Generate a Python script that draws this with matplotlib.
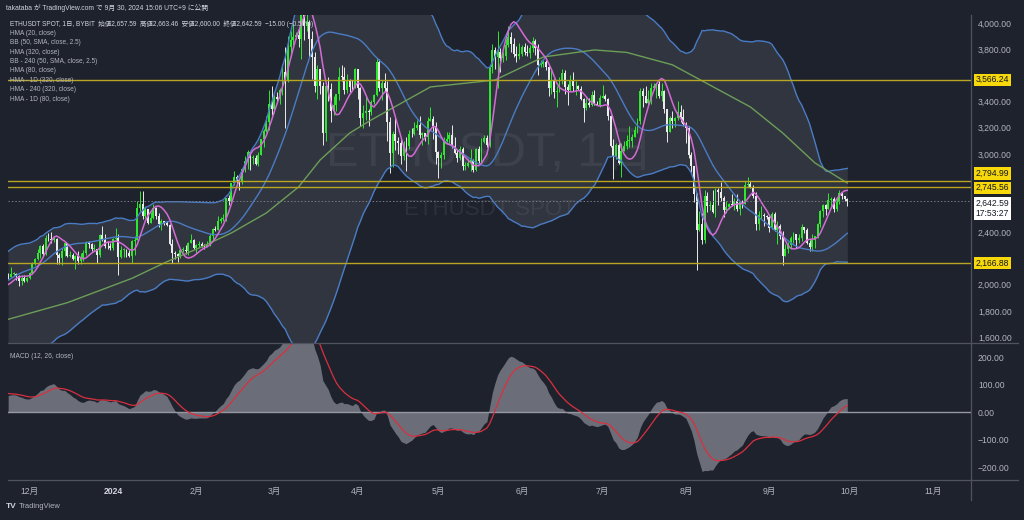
import numpy as np
import pandas as pd
import matplotlib
matplotlib.use("Agg")
import matplotlib.pyplot as plt
import matplotlib.dates as mdates

plt.rcParams.update({
    "font.family": ["Liberation Sans", "Noto Sans CJK JP"],
    "axes.unicode_minus": True,
})

# ETHUSDT daily closes before the visible window (2023-08-01 .. 2023-11-22), used to warm up the indicators
warmup_close = [
    1870, 1838, 1835, 1827, 1836, 1826, 1827, 1856, 1855, 1850, 1849, 1849, 1843, 1843, 1827, 1806,
    1684, 1668, 1682, 1683, 1665, 1636, 1680, 1662, 1650, 1645, 1654, 1655, 1730, 1705, 1645,
    1628, 1635, 1638, 1630, 1632, 1633, 1646, 1636, 1634, 1616, 1553, 1593, 1607, 1627, 1641,
    1635, 1621, 1637, 1646, 1624, 1583, 1592, 1593, 1581, 1588, 1594, 1596, 1653, 1665, 1671,
    1733, 1663, 1656, 1647, 1611, 1645, 1633, 1633, 1580, 1566, 1565, 1540, 1552, 1555, 1558, 1601,
    1566, 1565, 1566, 1605, 1629, 1664, 1763, 1785, 1784, 1803, 1778, 1776, 1794, 1810, 1814,
    1846, 1798, 1832, 1858, 1893, 1900, 1885, 1888, 2120, 2078, 2052, 2045, 2055, 1980, 2060,
    1960, 1962, 1963, 2012, 2022, 1932, 2064,
]

# visible candles 2023-11-23 .. 2024-09-30
close = [
    2062, 2082, 2085, 2064, 2027, 2048, 2030, 2052,
    2088, 2165, 2193, 2243, 2293, 2233, 2357, 2345, 2340, 2352, 2225, 2201, 2260, 2315, 2220, 2229,
    2196, 2218, 2178, 2200, 2239, 2326, 2313, 2271, 2272, 2228, 2376, 2345, 2298, 2293, 2282,
    2352, 2356, 2210, 2268, 2268, 2240, 2222, 2330, 2344, 2583, 2617, 2525, 2575, 2472, 2512, 2587,
    2528, 2467, 2490, 2470, 2455, 2313, 2240, 2235, 2218, 2265, 2268, 2256, 2318, 2343, 2283,
    2304, 2307, 2297, 2290, 2300, 2375, 2426, 2421, 2487, 2500, 2506, 2660, 2641, 2776, 2822,
    2803, 2786, 2881, 2945, 3013, 2967, 2971, 2922, 2991, 3112, 3177, 3242, 3384, 3340,
    3433, 3420, 3488, 3628, 3555, 3818, 3868, 3890, 3910, 3880, 4065, 3980, 4005, 3880, 3740, 3520,
    3645, 3515, 3160, 3520, 3492, 3330, 3370, 3455, 3590, 3585, 3490, 3560, 3510, 3508, 3645,
    3505, 3277, 3310, 3330, 3320, 3398, 3452, 3700, 3503, 3545, 3505, 3240, 3010, 3155, 3100,
    3083, 2985, 3063, 3057, 3155, 3148, 3200, 3220, 3140, 3157, 3130, 3250, 3265, 3210, 3015,
    2970, 2990, 3100, 3115, 3140, 3060, 3010, 2970, 3040, 2910, 2910, 2930, 2950, 2880, 3040, 2945,
    3090, 3120, 3070, 3660, 3790, 3740, 3780, 3730, 3750, 3830, 3890, 3840, 3765, 3750, 3760,
    3815, 3780, 3767, 3810, 3865, 3810, 3680, 3683, 3705, 3665, 3500, 3560, 3470, 3480, 3567,
    3620, 3510, 3485, 3560, 3515, 3520, 3495, 3420, 3350, 3390, 3370, 3450, 3380, 3375, 3430,
    3440, 3420, 3290, 3060, 2980, 3070, 2930, 3020, 3060, 3100, 3100, 3130, 3180, 3250, 3480, 3440,
    3390, 3420, 3500, 3520, 3530, 3440, 3480, 3340, 3170, 3270, 3250, 3270, 3320, 3280, 3230,
    3200, 2990, 2905, 2690, 2420, 2460, 2340, 2680, 2600, 2610, 2555, 2725, 2705, 2660, 2570, 2590,
    2615, 2610, 2640, 2575, 2630, 2620, 2765, 2770, 2745, 2680, 2460, 2530, 2530, 2525, 2515,
    2430, 2540, 2420, 2450, 2370, 2220, 2270, 2300, 2360, 2390, 2340, 2360, 2440, 2420, 2320,
    2290, 2340, 2370, 2465, 2560, 2610, 2580, 2650, 2655, 2580, 2630, 2700, 2680, 2657.59, 2642.59,
]
high = [
    2090, 2133, 2097, 2091, 2074, 2074, 2072, 2056,
    2100, 2170, 2200, 2275, 2305, 2310, 2380, 2393, 2400, 2375, 2355, 2245, 2280, 2330, 2320, 2260,
    2240, 2225, 2255, 2245, 2265, 2335, 2330, 2320, 2310, 2275, 2390, 2445, 2390, 2330, 2320,
    2355, 2430, 2385, 2295, 2280, 2270, 2265, 2345, 2370, 2640, 2717, 2715, 2600, 2580, 2555, 2615,
    2590, 2545, 2500, 2480, 2485, 2465, 2350, 2260, 2245, 2275, 2285, 2300, 2325, 2390, 2350,
    2310, 2330, 2325, 2310, 2335, 2390, 2435, 2450, 2525, 2515, 2540, 2665, 2685, 2780, 2865,
    2835, 2810, 2890, 2985, 3030, 3010, 2990, 2990, 3015, 3115, 3190, 3290, 3490, 3520,
    3450, 3470, 3500, 3690, 3820, 3900, 3940, 3995, 3930, 3965, 4085, 4090, 4085, 4020, 3935, 3780,
    3680, 3645, 3550, 3535, 3590, 3545, 3440, 3460, 3660, 3680, 3660, 3610, 3575, 3565, 3655,
    3650, 3510, 3370, 3445, 3345, 3410, 3460, 3730, 3725, 3565, 3615, 3555, 3285, 3175, 3280,
    3125, 3120, 3095, 3125, 3180, 3200, 3240, 3260, 3290, 3170, 3160, 3280, 3355, 3290, 3240,
    3020, 3015, 3125, 3170, 3170, 3220, 3125, 3030, 3060, 3055, 2940, 2960, 3040, 2960, 3045, 3060,
    3120, 3145, 3140, 3680, 3840, 3815, 3940, 3810, 3780, 3880, 3975, 3930, 3885, 3825, 3850,
    3835, 3845, 3830, 3830, 3890, 3880, 3840, 3715, 3720, 3715, 3675, 3655, 3570, 3515, 3590,
    3650, 3640, 3530, 3600, 3625, 3560, 3525, 3515, 3430, 3425, 3430, 3480, 3490, 3400, 3450,
    3525, 3460, 3430, 3300, 3110, 3080, 3085, 3080, 3095, 3145, 3215, 3150, 3210, 3275, 3500, 3500,
    3515, 3490, 3540, 3540, 3545, 3560, 3545, 3490, 3345, 3290, 3330, 3285, 3400, 3370, 3345,
    3240, 3215, 3015, 2910, 2700, 2560, 2550, 2720, 2710, 2640, 2720, 2740, 2740, 2785, 2680, 2640,
    2625, 2690, 2665, 2695, 2640, 2645, 2795, 2820, 2795, 2765, 2705, 2560, 2600, 2545, 2535,
    2525, 2555, 2555, 2490, 2465, 2410, 2310, 2325, 2375, 2400, 2390, 2385, 2460, 2440, 2430,
    2340, 2390, 2375, 2475, 2570, 2620, 2615, 2700, 2670, 2670, 2670, 2725, 2700, 2680, 2663.46,
]
low = [
    2040, 2056, 2073, 2035, 1990, 2000, 2020, 2020,
    2040, 2085, 2150, 2185, 2200, 2220, 2225, 2330, 2320, 2325, 2160, 2160, 2150, 2220, 2210, 2210,
    2185, 2120, 2160, 2160, 2180, 2225, 2280, 2260, 2260, 2165, 2215, 2330, 2280, 2270, 2265,
    2265, 2340, 2070, 2205, 2210, 2210, 2210, 2165, 2230, 2340, 2560, 2500, 2510, 2465, 2470, 2500,
    2505, 2440, 2415, 2455, 2450, 2305, 2165, 2195, 2170, 2200, 2250, 2235, 2230, 2320, 2270,
    2240, 2285, 2290, 2270, 2285, 2295, 2350, 2410, 2415, 2470, 2490, 2490, 2605, 2630, 2760,
    2760, 2725, 2770, 2860, 2885, 2875, 2925, 2915, 2910, 2990, 3055, 3170, 3180, 3300,
    3310, 3400, 3380, 3450, 3200, 3550, 3770, 3830, 3880, 3815, 3725, 3870, 3935, 3740, 3570, 3470,
    3420, 3455, 3065, 3100, 3400, 3240, 3300, 3330, 3415, 3560, 3460, 3465, 3475, 3490, 3500,
    3420, 3210, 3200, 3260, 3210, 3300, 3380, 3440, 3480, 3410, 3480, 3100, 2850, 2900, 3030,
    3000, 2920, 2955, 2870, 3040, 3125, 3140, 3180, 3120, 3070, 3100, 3075, 3250, 3110, 2920,
    2815, 2890, 2960, 3090, 3080, 3045, 3000, 2940, 2950, 2880, 2880, 2900, 2870, 2860, 2870, 2930,
    2930, 3085, 3050, 3050, 3620, 3650, 3500, 3625, 3705, 3720, 3820, 3775, 3740, 3700, 3725,
    3750, 3755, 3750, 3730, 3780, 3755, 3600, 3665, 3660, 3640, 3440, 3460, 3430, 3360, 3470,
    3535, 3460, 3370, 3480, 3480, 3450, 3490, 3415, 3240, 3335, 3355, 3365, 3370, 3370, 3360,
    3425, 3400, 3260, 3050, 2810, 2960, 2920, 2825, 3020, 3040, 3055, 3050, 3125, 3160, 3225, 3360,
    3385, 3375, 3380, 3490, 3425, 3425, 3400, 3310, 3090, 3165, 3195, 3205, 3260, 3240, 3215,
    3080, 2970, 2860, 2635, 2110, 2410, 2310, 2320, 2555, 2570, 2550, 2520, 2610, 2640, 2520, 2550,
    2580, 2600, 2570, 2560, 2530, 2585, 2615, 2745, 2735, 2660, 2420, 2420, 2505, 2445, 2500,
    2400, 2425, 2410, 2310, 2350, 2150, 2225, 2240, 2270, 2320, 2280, 2320, 2330, 2395, 2310,
    2260, 2255, 2280, 2360, 2440, 2515, 2535, 2575, 2590, 2555, 2560, 2620, 2655, 2640, 2600,
]

# HMA (320)
hma320_dates = ["2023-11-23", "2023-12-15", "2024-01-08", "2024-01-21", "2024-02-02", "2024-02-14",
                "2024-02-27", "2024-03-10", "2024-03-18", "2024-03-29", "2024-04-06", "2024-04-28",
                "2024-05-22", "2024-06-09", "2024-06-28", "2024-07-10", "2024-07-27", "2024-08-25",
                "2024-09-06", "2024-09-18", "2024-09-30"]
hma320_vals = [1735, 1862, 2048, 2175, 2280, 2395, 2548, 2747, 2953, 3159, 3259, 3511,
               3564, 3740, 3794, 3775, 3680, 3358, 3159, 2930, 2777]

levels = [3566.24, 2794.99, 2745.56, 2166.88]
last_price = 2642.59

# price ticks; the ones hidden under the level boxes are left out
price_ticks = [1600, 1800, 2000, 2400, 3000, 3200, 3400, 3800, 4000]
macd_ticks = [-200, -100, 0, 100, 200]

month_starts = ["2023-12-01", "2024-01-01", "2024-02-01", "2024-03-01", "2024-04-01", "2024-05-01",
                "2024-06-01", "2024-07-01", "2024-08-01", "2024-09-01", "2024-10-01", "2024-11-01"]
month_labels = ["12月", "2024", "2月", "3月", "4月", "5月", "6月", "7月", "8月", "9月", "10月", "11月"]

legend_lines = [
    "ETHUSDT SPOT, 1日, BYBIT  始値2,657.59  高値2,663.46  安値2,600.00  終値2,642.59  \u221215.00 (\u22120.56%)",
    "HMA (20, close)",
    "BB (50, SMA, close, 2.5)",
    "HMA (320, close)",
    "BB - 240 (50, SMA, close, 2.5)",
    "HMA (80, close)",
    "HMA - 1D (320, close)",
    "HMA - 240 (320, close)",
    "HMA - 1D (80, close)",
]

# colours
BG = "#131722"
FRAME = "#1e222d"
TXT = "#b2b5be"
UP = "#2ee82e"
DOWN = "#ebebeb"
BLUE = "#4a7cc4"
PINK = "#d46bd4"
GREEN = "#6c9e57"
YEL = "#b8a623"


def wma(s, n):
    w = np.arange(1, n + 1)
    return s.rolling(n).apply(lambda v: np.dot(v, w) / w.sum(), raw=True)


def hma(s, n):
    return wma(2 * wma(s, n // 2) - wma(s, n), int(np.sqrt(n)))


dates = pd.date_range("2023-11-23", periods=len(close), freq="D")
warm_dates = pd.date_range(end="2023-11-22", periods=len(warmup_close), freq="D")
s = pd.Series(warmup_close + close, index=warm_dates.append(dates), dtype=float)

hma20 = hma(s, 20)[dates]
hma80 = hma(s, 80)[dates]
basis = s.rolling(50).mean()
dev = s.rolling(50).std(ddof=0)
bb_up = (basis + 2.5 * dev)[dates]
bb_lo = (basis - 2.5 * dev)[dates]
ema12 = s.ewm(span=12, adjust=False).mean()
ema26 = s.ewm(span=26, adjust=False).mean()
macd = (ema12 - ema26)
signal = macd.ewm(span=9, adjust=False).mean()
macd, signal = macd[dates], signal[dates]

c = np.array(close, dtype=float)
o = np.r_[warmup_close[-1], c[:-1]]
h = np.maximum.reduce([np.array(high, float), o, c])
l = np.minimum.reduce([np.array(low, float), o, c])
x = mdates.date2num(dates)

W, H = 1024, 520
fig = plt.figure(figsize=(W / 100, H / 100), dpi=100, facecolor=FRAME)


def fx(px):
    return px / W


def fy(py):
    return 1 - py / H


panel = fig.add_axes([fx(8), fy(500), fx(1018 - 8), (500 - 15) / H])
panel.set_facecolor(BG)
panel.set_axis_off()

ax = fig.add_axes([fx(8), fy(343), fx(971 - 8), (343 - 15) / H], facecolor="none")
axm = fig.add_axes([fx(8), fy(480), fx(971 - 8), (480 - 343) / H], facecolor="none", sharex=ax)

xmin = mdates.date2num(pd.Timestamp("2023-11-23")) - 0.05
xmax = mdates.date2num(pd.Timestamp("2024-11-15"))
ax.set_xlim(xmin, xmax)
ax.set_ylim(1554, 4061)
axm.set_ylim(-247, 251)

for a in (ax, axm):
    for sp in a.spines.values():
        sp.set_visible(False)

# watermark
ax.text(0.5, 0.578, "ETHUSDT, 1日", transform=ax.transAxes, ha="center", va="center",
        fontsize=35, color="white", alpha=0.07, zorder=0.5)
ax.text(0.5, 0.408, "ETHUSDT SPOT", transform=ax.transAxes, ha="center", va="center",
        fontsize=16, color="white", alpha=0.07, zorder=0.5)

# Bollinger band fill
ax.fill_between(x, bb_lo, bb_up, color="#787b86", alpha=0.22, lw=0, zorder=1)
ax.plot(x, bb_up, color=BLUE, lw=1.0, zorder=4)
ax.plot(x, bb_lo, color=BLUE, lw=1.0, zorder=4)

# candles
up = c >= o
col = np.where(up, UP, DOWN)
ax.vlines(x, l, h, colors=col, lw=0.7, zorder=3)
body = np.maximum(np.abs(c - o), 6)
ax.bar(x, body, bottom=np.minimum(o, c), width=0.72, color=col, lw=0, zorder=3)

# moving averages
ax.plot(x, hma80, color=BLUE, lw=1.0, zorder=4)
ax.plot(mdates.date2num(pd.to_datetime(hma320_dates)), hma320_vals, color=GREEN, lw=1.0, zorder=4)
ax.plot(x, hma20, color=PINK, lw=1.1, zorder=5)

# horizontal levels
for lv in levels:
    ax.axhline(lv, color=YEL, lw=1.0, zorder=6)
ax.axhline(last_price, color="#787b86", lw=0.7, ls=(0, (1.5, 2)), zorder=6)

# price axis
ax.yaxis.tick_right()
ax.set_yticks(price_ticks)
ax.set_yticklabels([f"{t:,.2f}" for t in price_ticks])
ax.tick_params(axis="y", length=0, pad=5, labelsize=6.2, colors=TXT)
ax.tick_params(axis="x", length=0, labelbottom=False)

yt = ax.get_yaxis_transform()
lab_off = {3566.24: 0, 2794.99: 5, 2745.56: -0.5, 2166.88: 0}
for lv in levels:
    ax.annotate(f"{lv:,.2f}", xy=(1, lv), xycoords=yt, xytext=(3.2, lab_off[lv]),
                textcoords="offset points", ha="left", va="center", fontsize=6.2, color="#131722",
                bbox=dict(boxstyle="square,pad=0.2", fc="#f7d80a", ec="none"),
                annotation_clip=False, zorder=10)
ax.annotate(f"{last_price:,.2f}\n17:53:27", xy=(1, last_price), xycoords=yt, xytext=(3.2, -5.5),
            textcoords="offset points", ha="left", va="center", fontsize=6.2, color="#131722",
            linespacing=1.2, bbox=dict(boxstyle="square,pad=0.2", fc="white", ec="none"),
            annotation_clip=False, zorder=10)

# MACD panel
axm.fill_between(x, 0, macd, color="#6b6e78", lw=0, zorder=2)
axm.plot(x, signal, color="#d9303f", lw=0.9, zorder=3)
axm.axhline(0, color="#9598a1", lw=1.0, zorder=2.5)
axm.yaxis.tick_right()
axm.set_yticks(macd_ticks)
axm.set_yticklabels([f"{t:.2f}".replace("-", "\u2212") for t in macd_ticks])
axm.tick_params(axis="y", length=0, pad=5, labelsize=6.2, colors=TXT)
axm.set_xticks(mdates.date2num(pd.to_datetime(month_starts)))
axm.set_xticklabels(month_labels)
axm.tick_params(axis="x", length=0, pad=5, labelsize=6.2, colors=TXT)
lbl = axm.get_xticklabels()[1]
lbl.set_fontweight("bold")
lbl.set_color("#d1d4dc")
axm.text(fx(2), 0.9, "MACD (12, 26, close)", transform=axm.transAxes, fontsize=4.8, color=TXT,
         va="center")

# separators
sep = "#50535e"
fig.add_artist(plt.Line2D([fx(8), fx(1018)], [fy(343), fy(343)], color=sep, lw=0.9))
fig.add_artist(plt.Line2D([fx(8), fx(1018)], [fy(480), fy(480)], color=sep, lw=0.9))
fig.add_artist(plt.Line2D([fx(971), fx(971)], [fy(15), fy(500)], color=sep, lw=0.9))

# header and legend text
fig.text(fx(6), fy(8), "takataba が TradingView.com で 9月 30, 2024 15:06 UTC+9 に公開",
         fontsize=4.9, color="#d1d4dc", va="center")
for i, t in enumerate(legend_lines):
    fig.text(fx(10), fy(23.7 + i * 9.45), t, fontsize=4.7, color=TXT if i else "#d1d4dc",
             va="center")

# footer
fig.text(fx(6), fy(507), "TV", fontsize=6, fontweight="bold", color="#d1d4dc", va="center")
fig.text(fx(19), fy(507), "TradingView", fontsize=5.4, color="#b2b5be", va="center")

fig.savefig("out.png", dpi=100, facecolor=FRAME)
